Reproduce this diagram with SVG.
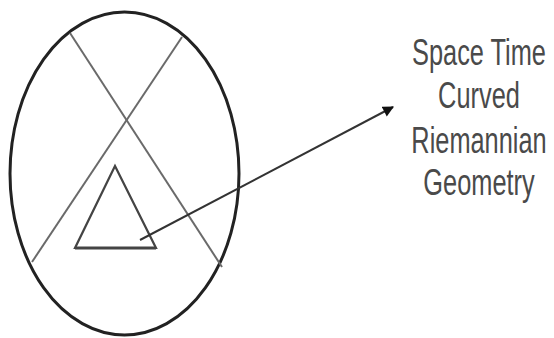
<svg xmlns="http://www.w3.org/2000/svg" width="554" height="338" viewBox="0 0 554 338">
<style>
.lbl{font-family:"Liberation Sans",Arial,sans-serif;font-size:36px;fill:#4a4a4a;text-anchor:middle}
.thin{fill:none;stroke:#6a6a6a;stroke-width:2}
</style>
<defs>
<marker id="ah" viewBox="0 0 10 10" refX="9" refY="5" markerWidth="12" markerHeight="11" markerUnits="userSpaceOnUse" orient="auto">
<path d="M0,0 L10,5 L0,10 z" fill="#111"/>
</marker>
</defs>
<rect width="554" height="338" fill="#fff"/>
<g id="circle">
<ellipse cx="124.5" cy="173.5" rx="114.5" ry="161.5" fill="none" stroke="#222" stroke-width="3"/>
</g>
<g id="cross">
<line class="thin" x1="70" y1="33" x2="222" y2="267"/>
<line class="thin" x1="32" y1="262" x2="182" y2="37"/>
</g>
<g id="triangle">
<path d="M115,166 L75,248 L156,248 Z" fill="none" stroke="#444" stroke-width="2.2"/>
<line x1="75" y1="248" x2="156" y2="248" stroke="#444" stroke-width="3"/>
</g>
<g id="connectors">
<line x1="140" y1="240" x2="393" y2="107" stroke="#333" stroke-width="2" marker-end="url(#ah)"/>
</g>
<g id="label" transform="translate(479,0) scale(0.705,1)">
<text class="lbl" x="0" y="65">Space Time</text>
<text class="lbl" x="0" y="108">Curved</text>
<text class="lbl" x="0" y="153">Riemannian</text>
<text class="lbl" x="0" y="195">Geometry</text>
</g>
</svg>
